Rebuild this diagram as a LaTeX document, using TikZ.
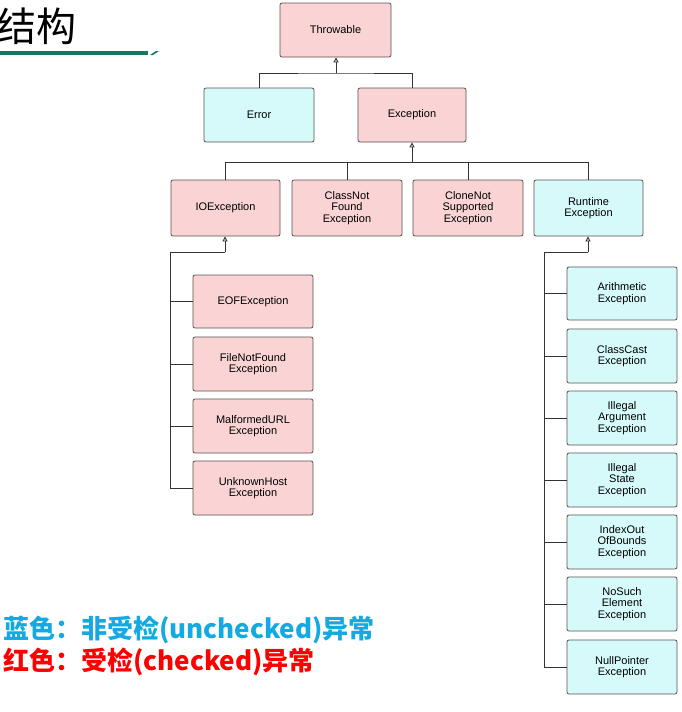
\documentclass[tikz,border=0pt]{standalone}
\usepackage{fontspec}
\setmainfont{Liberation Sans}
\newfontfamily\cjk{Noto Sans CJK SC}
\usetikzlibrary{arrows.meta}
\definecolor{pinkf}{RGB}{250,212,212}
\definecolor{cyanf}{RGB}{214,250,250}
\definecolor{edgec}{RGB}{90,80,80}
\definecolor{legblue}{RGB}{20,170,225}
\definecolor{titlegreen}{RGB}{20,120,95}
\begin{document}
\begin{tikzpicture}[x=1pt,y=-1pt,
  cls/.style={draw=edgec,line width=0.8pt,rounded corners=2pt,align=center,font=\fontsize{11}{11.5}\selectfont,inner sep=0pt},
  chk/.style={cls,fill=pinkf},
  unc/.style={cls,fill=cyanf},
  conn/.style={draw=black!80,line width=0.9pt},
  inh/.style={conn,-{Triangle[open,length=5pt,width=5pt]}}]
\useasboundingbox (0,0) rectangle (682,712);
% title
\node[anchor=west,font=\cjk\fontsize{40}{40}\selectfont,inner sep=0pt] (title) at (-4,26) {结构};
\fill[titlegreen] (0,51) rectangle (148,55);
\fill[titlegreen] (150,55) -- (156,51) -- (159,51) -- (153,55) -- cycle;
% nodes
\newcommand{\bx}[6]{\node[#1,minimum width=#4-#3,minimum height=#6-#5] (#2) at ({(#3+#4)/2},{(#5+#6)/2})}
\bx{chk}{thr}{280}{391}{3}{57} {Throwable};
\bx{unc}{err}{204}{314}{88}{142} {Error};
\bx{chk}{exc}{358}{466}{88}{142} {Exception};
\bx{chk}{io}{171}{280}{180}{236} {IOException};
\bx{chk}{cnf}{292}{402}{180}{236} {ClassNot\\Found\\Exception};
\bx{chk}{cns}{413}{523}{180}{236} {CloneNot\\Supported\\Exception};
\bx{unc}{rt}{534}{643}{180}{236} {Runtime\\Exception};
\bx{chk}{eof}{193}{313}{275}{328} {EOFException};
\bx{chk}{fnf}{193}{313}{337}{391} {FileNotFound\\Exception};
\bx{chk}{mal}{193}{313}{399}{453} {MalformedURL\\Exception};
\bx{chk}{uh}{193}{313}{461}{515} {UnknownHost\\Exception};
\bx{unc}{ar}{567}{677}{267}{320} {Arithmetic\\Exception};
\bx{unc}{cc}{567}{677}{329}{383} {ClassCast\\Exception};
\bx{unc}{ia}{567}{677}{391}{445} {Illegal\\Argument\\Exception};
\bx{unc}{is}{567}{677}{453}{507} {Illegal\\State\\Exception};
\bx{unc}{ioob}{567}{677}{515}{569} {IndexOut\\OfBounds\\Exception};
\bx{unc}{ns}{567}{677}{577}{631} {NoSuch\\Element\\Exception};
\bx{unc}{np}{567}{677}{640}{694} {NullPointer\\Exception};
% connectors level 1
\coordinate (b1) at (336,73);
\draw[conn] (err.north) |- (b1) -| (exc.north);
\draw[inh] (b1) -- (b1 |- thr.south);
% level 2
\coordinate (b2) at (412,162);
\foreach \n in {io,cnf,cns,rt} \draw[conn] (\n.north) |- (b2);
\draw[inh] (b2) -- (b2 |- exc.south);
% IO children
\coordinate (v1) at (225,252);
\draw[inh] (v1) -- (v1 |- io.south);
\draw[conn] (v1) -- (170,252) -- (170,488);
\foreach \n in {eof,fnf,mal,uh} \draw[conn] (\n.west) -- (170,0 |- \n.west);
% Runtime children
\coordinate (v2) at (588,252);
\draw[inh] (v2) -- (v2 |- rt.south);
\draw[conn] (v2) -- (544,252) -- (544,667);
\foreach \n in {ar,cc,ia,is,ioob,ns,np} \draw[conn] (\n.west) -- (544,0 |- \n.west);
% legend
\node[anchor=west,text=legblue,font=\cjk\bfseries\fontsize{26}{26}\selectfont,inner sep=0pt] (leg1) at (3,630) {蓝色：非受检(unchecked)异常};
\node[anchor=west,text=red,font=\cjk\bfseries\fontsize{26}{26}\selectfont,inner sep=0pt] (leg2) at (3,662) {红色：受检(checked)异常};
\end{tikzpicture}
\end{document}
